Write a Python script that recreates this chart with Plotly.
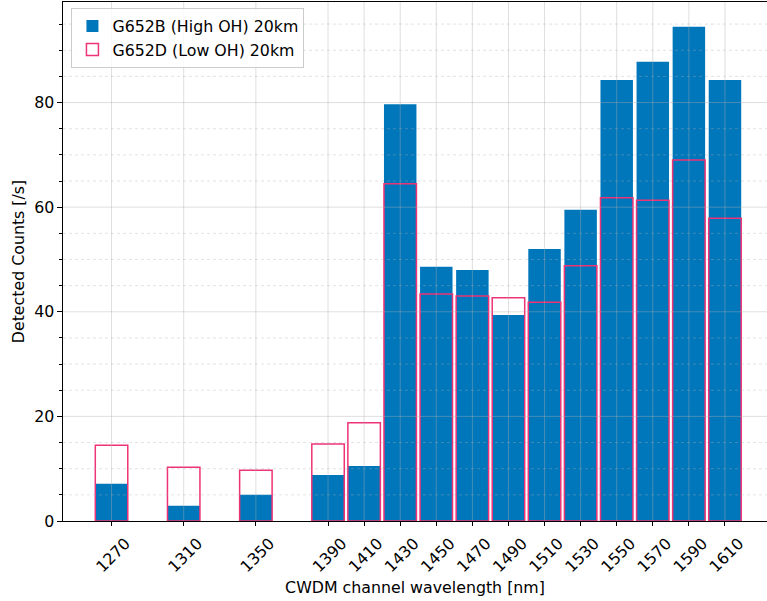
import plotly.graph_objects as go

# CWDM channel centre wavelengths [nm]
wavelengths = [1270, 1310, 1350, 1390, 1410, 1430, 1450, 1470,
               1490, 1510, 1530, 1550, 1570, 1590, 1610]
tick_labels = [str(w) for w in wavelengths]

# Detected counts per second for each fibre type
g652b_high_oh = [7.1, 2.9, 5.0, 8.8, 10.5, 79.7, 48.6, 48.0,
                 39.4, 52.0, 59.5, 84.3, 87.8, 94.5, 84.3]
g652d_low_oh = [14.5, 10.3, 9.7, 14.7, 18.8, 64.5, 43.4, 43.0,
                42.7, 41.8, 48.8, 61.8, 61.3, 69.0, 57.9]

BLUE = "#0077BB"
MAGENTA = "#EE3377"
FONT = "DejaVu Sans"
FS = 15.8

fig = go.Figure()
fig.add_trace(go.Bar(
    x=wavelengths, y=g652b_high_oh, width=18,
    name="G652B (High OH) 20km",
    marker=dict(color=BLUE, line=dict(width=0)),
))
fig.add_trace(go.Bar(
    x=wavelengths, y=g652d_low_oh, width=18,
    name="G652D (Low OH) 20km",
    marker=dict(color="rgba(0,0,0,0)", line=dict(color=MAGENTA, width=1.5)),
))

ymax = max(max(g652b_high_oh), max(g652d_low_oh)) * 1.05
xmin = wavelengths[0] - 9 - 0.05 * (wavelengths[-1] - wavelengths[0] + 18)

# Grid drawn on top of the bars
shapes = []
for w in wavelengths:
    shapes.append(dict(type="line", xref="x", yref="paper", x0=w, x1=w, y0=0, y1=1,
                       layer="above", line=dict(color="rgba(176,176,176,0.4)", width=1)))
for v in range(5, int(ymax) + 1, 5):
    major = v % 20 == 0
    shapes.append(dict(type="line", xref="paper", yref="y", x0=0, x1=1, y0=v, y1=v,
                       layer="above",
                       line=dict(color="rgba(176,176,176,0.4)" if major else "rgba(176,176,176,0.35)",
                                 width=1, dash="solid" if major else "dot")))

fig.update_layout(
    width=767, height=601,
    margin=dict(l=63, r=0, t=2, b=80, autoexpand=False),
    barmode="overlay",
    plot_bgcolor="white", paper_bgcolor="white",
    font=dict(family=FONT, size=FS, color="black"),
    shapes=shapes,
    showlegend=True,
    legend=dict(
        x=0.012, y=0.988, xanchor="left", yanchor="top",
        bgcolor="rgba(255,255,255,0.8)", bordercolor="#cccccc", borderwidth=1,
        font=dict(family=FONT, size=FS), traceorder="normal",
    ),
    xaxis=dict(
        range=[xmin, 1633.3],
        tickmode="array", tickvals=wavelengths, ticktext=tick_labels,
        tickangle=-45, ticks="outside", ticklen=4, tickwidth=1, tickcolor="black",
        ticklabelshift=14, ticklabelstandoff=2,
        showline=True, linecolor="black", linewidth=1.2, mirror=True,
        showgrid=False, zeroline=False, automargin=False,
        title=dict(text="CWDM channel wavelength [nm]", font=dict(size=FS), standoff=6),
    ),
    yaxis=dict(
        range=[0, ymax],
        tickmode="array", tickvals=[0, 20, 40, 60, 80],
        ticks="outside", ticklen=4.5, tickwidth=1, tickcolor="black",
        minor=dict(tickmode="array", tickvals=[v for v in range(5, 100, 5) if v % 20],
                   ticks="outside", ticklen=3, tickcolor="black", showgrid=False),
        showline=True, linecolor="black", linewidth=1.2,
        showgrid=False, zeroline=False, automargin=False,
        title=dict(text="Detected Counts [/s]", font=dict(size=FS), standoff=5),
    ),
)

fig.write_html("out.html")
